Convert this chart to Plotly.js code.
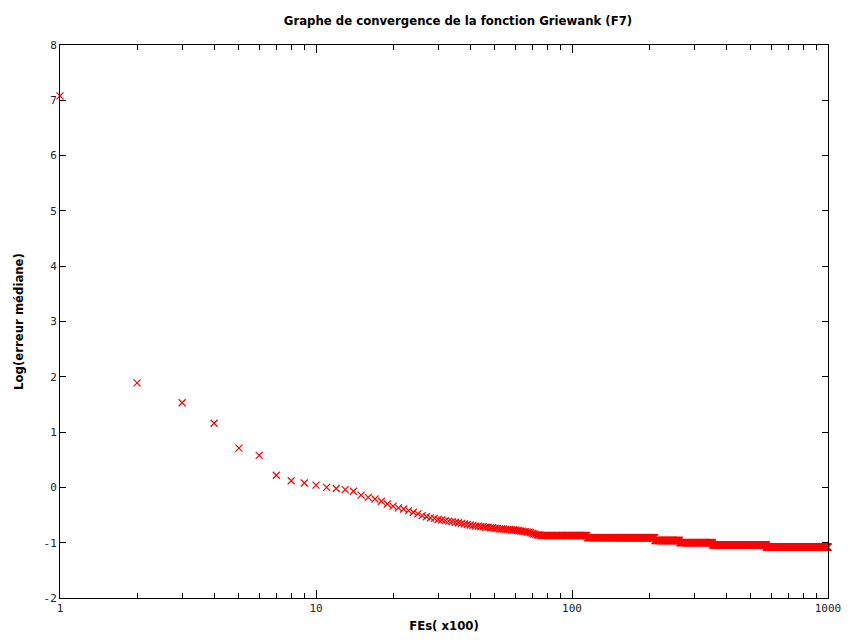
<!DOCTYPE html>
<html>
<head>
<meta charset="utf-8">
<script src="https://cdn.plot.ly/plotly-3.0.1.min.js"></script>
<style>html,body{margin:0;padding:0;background:#fff;}#chart{width:853px;height:642px;}</style>
</head>
<body>
<div id="chart"></div>
<script>
// Early points (FEs x100 = 1..75)
const earlyX = [1,2,3,4,5,6,7,8,9,10,11,12,13,14,15,16,17,18,19,20,
  21,22,23,24,25,26,27,28,29,30,31,32,33,34,35,36,37,38,39,40,
  41,42,43,44,45,46,47,48,49,50,51,52,53,54,55,56,57,58,59,60,
  61,62,63,64,65,66,67,68,69,70,71,72,73,74,75];
const earlyY = [7.08,1.89,1.53,1.16,0.71,0.58,0.22,0.12,0.08,0.04,0.00,-0.02,-0.04,-0.07,-0.14,-0.18,-0.21,-0.25,-0.30,-0.34,
  -0.37,-0.39,-0.42,-0.45,-0.48,-0.51,-0.53,-0.55,-0.56,-0.58,-0.59,-0.60,-0.61,-0.62,-0.63,-0.64,-0.65,-0.66,-0.67,-0.68,
  -0.69,-0.70,-0.70,-0.71,-0.71,-0.72,-0.72,-0.73,-0.73,-0.74,-0.74,-0.75,-0.75,-0.75,-0.76,-0.76,-0.76,-0.77,-0.77,-0.77,
  -0.78,-0.78,-0.79,-0.79,-0.80,-0.80,-0.81,-0.81,-0.82,-0.83,-0.84,-0.85,-0.86,-0.86,-0.86];
// Later points: plateaus of constant value (start FEs, end FEs, value)
const plateauStart = [76, 115, 211, 264, 355, 575];
const plateauEnd   = [114, 210, 263, 354, 574, 1000];
const plateauValue = [-0.87, -0.91, -0.96, -1.00, -1.04, -1.08];

const yTickVals = [-2,-1,0,1,2,3,4,5,6,7,8];
const yTickText = ["-2","-1","0","1","2","3","4","5","6","7","8"];
const xTickVals = [1,10,100,1000];
const xTickText = ["1","10","100","1000"];
const xMinorTickVals = [2,3,4,5,6,7,8,9,20,30,40,50,60,70,80,90,200,300,400,500,600,700,800,900];

const xs = earlyX.slice();
const ys = earlyY.slice();
for (let k = 0; k < plateauStart.length; k++) {
  for (let x = plateauStart[k]; x <= plateauEnd[k]; x++) { xs.push(x); ys.push(plateauValue[k]); }
}

const trace = {
  x: xs, y: ys, type: 'scatter', mode: 'markers', cliponaxis: false,
  marker: {symbol: 'x-thin', size: 7, color: '#ff0000', line: {color: '#ff0000', width: 1.2}},
  hoverinfo: 'skip'
};
// invisible helper trace on a second x axis that only carries the minor log ticks
const minorTrace = {x: [1, 1000], y: [null, null], xaxis: 'x2', yaxis: 'y', type: 'scatter', mode: 'markers', hoverinfo: 'skip', showlegend: false};

const tickFont = {family: 'DejaVu Sans Mono', size: 11, color: '#222'};
const titleFont = {family: 'Liberation Sans Narrow, DejaVu Sans Condensed, sans-serif', size: 13, color: '#000', weight: 'bold'};
const layout = {
  width: 853, height: 642,
  margin: {l: 60, r: 25, t: 45, b: 44},
  paper_bgcolor: '#fff', plot_bgcolor: '#fff',
  showlegend: false,
  title: {text: 'Graphe de convergence de la fonction Griewank (F7)',
    font: titleFont,
    x: 458/853, xref: 'container', xanchor: 'center', y: 1 - 20/642, yref: 'container', yanchor: 'middle'},
  xaxis: {
    type: 'log', range: [0, 3], showgrid: false, zeroline: false,
    showline: true, linecolor: '#000', linewidth: 1, mirror: 'ticks',
    ticks: 'inside', ticklen: 8, tickcolor: '#000', tickwidth: 1,
    tickvals: xTickVals, ticktext: xTickText, tickfont: tickFont,
    title: {text: 'FEs( x100)', font: titleFont, standoff: 6}
  },
  xaxis2: {
    type: 'log', range: [0, 3], overlaying: 'x', side: 'bottom', showgrid: false, zeroline: false,
    showline: false, mirror: 'ticks',
    ticks: 'inside', ticklen: 5, tickcolor: '#000', tickwidth: 1,
    tickvals: xMinorTickVals, showticklabels: false
  },
  yaxis: {
    range: [-2, 8], showgrid: false, zeroline: false,
    showline: true, linecolor: '#000', linewidth: 1, mirror: 'ticks',
    ticks: 'inside', ticklen: 6, tickcolor: '#000', tickwidth: 1,
    tickvals: yTickVals, ticktext: yTickText, tickfont: tickFont,
    title: {text: 'Log(erreur médiane)', font: titleFont, standoff: 16}
  }
};

Plotly.newPlot('chart', [minorTrace, trace], layout, {displayModeBar: false, staticPlot: true});
</script>
</body>
</html>
